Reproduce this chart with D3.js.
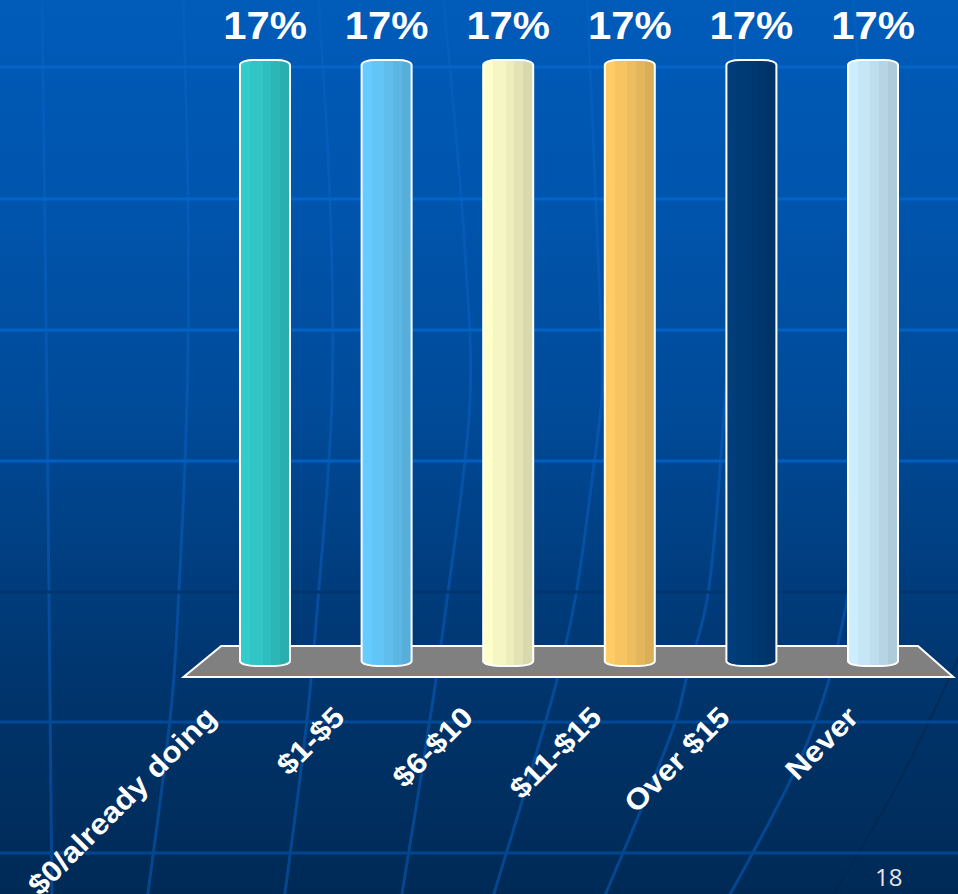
<!DOCTYPE html>
<html>
<head>
<meta charset="utf-8">
<script src="https://cdn.jsdelivr.net/npm/d3@7"></script>
<style>
  html, body { margin: 0; padding: 0; background: #002a56; }
  svg { display: block; }
</style>
</head>
<body>
<svg id="chart" width="958" height="894"></svg>
<script>
// Willingness-to-pay survey: share of answers per price bracket
const categories = ["$0/already doing", "$1-$5", "$6-$10", "$11-$15", "Over $15", "Never"];
const values = [17, 17, 17, 17, 17, 17];
const barColors = ["#33cccc", "#66ccff", "#ffffcc", "#ffcc66", "#003d7a", "#cceeff"];
const pageNumber = "18";

const W = 958, H = 894;
const svg = d3.select("#chart");
const defs = svg.append("defs");

// ---- slide background -------------------------------------------------
const bg = defs.append("linearGradient").attr("id", "bg")
  .attr("x1", 0).attr("y1", 0).attr("x2", 0).attr("y2", 1);
[[0, "#005bb9"], [0.22, "#0055ad"], [0.45, "#004b9a"], [0.67, "#003b7a"],
 [0.8, "#003369"], [1, "#002a56"]].forEach(([o, c]) =>
  bg.append("stop").attr("offset", o).attr("stop-color", c));
svg.append("rect").attr("width", W).attr("height", H).attr("fill", "url(#bg)");

// decorative curved grid of the slide template
const deco = svg.append("g").attr("fill", "none");
const curve = d3.line().curve(d3.curveCatmullRom.alpha(0.5));
const bends = [
  [[42, -5], [47, 400], [49, 600], [50, 700], [52, 900]],
  [[183, -5], [188, 200], [187, 400], [179, 590], [172, 700], [147, 900]],
  [[318, -5], [330, 200], [332, 400], [318, 600], [307, 720], [284, 900]],
  [[443, -5], [465, 250], [470, 400], [447, 600], [433, 700], [401, 900]],
  [[587, -5], [600, 300], [603, 380], [592, 480], [575, 600], [557, 680], [492, 900]],
  [[735, -5], [732, 300], [725, 400], [707, 600], [686, 680], [676, 720], [603, 900]],
  [[853, -5], [865, 200], [865, 400], [855, 550], [847, 600], [829, 680], [800, 760], [727, 900]]
];
deco.selectAll("path.bend").data(bends).join("path")
  .attr("class", "bend")
  .attr("d", curve)
  .attr("stroke", "#0a62c4")
  .attr("stroke-opacity", 0.5)
  .attr("stroke-width", 3);
deco.append("path")
  .attr("d", curve([[830, 900], [900, 780], [962, 650]]))
  .attr("stroke", "#00234a").attr("stroke-opacity", 0.5).attr("stroke-width", 2);

const rules = [
  {y: 67, c: "#0066cc"}, {y: 199, c: "#0066cc"}, {y: 330, c: "#0063c6"},
  {y: 461, c: "#005fc0"}, {y: 592, c: "#003670"}, {y: 722, c: "#004a98"},
  {y: 853, c: "#00468f"}
];
deco.selectAll("line.rule").data(rules).join("line")
  .attr("class", "rule")
  .attr("x1", 0).attr("x2", W)
  .attr("y1", d => d.y).attr("y2", d => d.y)
  .attr("stroke", d => d.c).attr("stroke-width", 3);

// ---- scales -----------------------------------------------------------
const x = d3.scalePoint().domain(categories).range([265, 873]);
const step = x.step();
const barW = 50;
const y = d3.scaleLinear().domain([0, 17]).range([664, 61]);

// label anchors run along the front of the floor
const xLabel = d3.scalePoint().domain(categories).range([218, 860]);

// ---- floor ------------------------------------------------------------
const first = x(categories[0]), last = x(categories[categories.length - 1]);
const backY = 646, frontY = 677;
svg.append("path")
  .attr("d", d3.line()([
    [first - step * 0.36, backY], [last + step * 0.37, backY],
    [last + step * 0.66, frontY], [first - step * 0.67, frontY]
  ]) + "Z")
  .attr("fill", "#808080")
  .attr("stroke", "#ffffff")
  .attr("stroke-width", 2)
  .attr("stroke-linejoin", "miter");

// ---- cylinder shading -------------------------------------------------
const shade = [0, 0.1, 0.2, 0.32, 0.45];
const bandEdges = [0, 0.2, 0.45, 0.62, 0.8, 1];
barColors.forEach((c, i) => {
  const g = defs.append("linearGradient").attr("id", "bar" + i)
    .attr("x1", 0).attr("x2", 1).attr("y1", 0).attr("y2", 0);
  shade.forEach((k, j) => {
    const col = d3.color(c).darker(k).formatHex();
    g.append("stop").attr("offset", bandEdges[j]).attr("stop-color", col);
    g.append("stop").attr("offset", bandEdges[j + 1]).attr("stop-color", col);
  });
});

function barPath(cx, yTop, yBot) {
  const x0 = cx - barW / 2, x1 = cx + barW / 2;
  const p = d3.path();
  p.moveTo(x0, yTop + 4);
  p.bezierCurveTo(x0, yTop + 1, x0 + 6, yTop - 1, x0 + 14, yTop - 1);
  p.lineTo(x1 - 14, yTop - 1);
  p.bezierCurveTo(x1 - 6, yTop - 1, x1, yTop + 1, x1, yTop + 4);
  p.lineTo(x1, yBot - 3);
  p.bezierCurveTo(x1, yBot, x1 - 8, yBot + 2, x1 - 16, yBot + 2);
  p.lineTo(x0 + 16, yBot + 2);
  p.bezierCurveTo(x0 + 8, yBot + 2, x0, yBot, x0, yBot - 3);
  p.closePath();
  return p.toString();
}

const data = categories.map((c, i) => ({cat: c, value: values[i], i}));

svg.append("g").selectAll("path").data(data).join("path")
  .attr("d", d => barPath(x(d.cat), y(d.value), y(0)))
  .attr("fill", d => `url(#bar${d.i})`)
  .attr("stroke", "#ffffff")
  .attr("stroke-width", 2);

// ---- value labels -----------------------------------------------------
svg.append("g").selectAll("text").data(data).join("text")
  .attr("transform", d => `translate(${x(d.cat)},39) scale(1.1,1)`)
  .attr("text-anchor", "middle")
  .attr("font-family", "'Liberation Sans', Arial, sans-serif")
  .attr("font-weight", "bold")
  .attr("font-size", 38)
  .attr("fill", "#ffffff")
  .text(d => d.value + "%");

// ---- category labels --------------------------------------------------
svg.append("g").selectAll("text").data(data).join("text")
  .attr("transform", d => `translate(${xLabel(d.cat)},719) rotate(-45) scale(1.1,1)`)
  .attr("text-anchor", "end")
  .attr("font-family", "'Liberation Sans', Arial, sans-serif")
  .attr("font-weight", "bold")
  .attr("font-size", 29)
  .attr("fill", "#ffffff")
  .text(d => d.cat);

// ---- slide number -----------------------------------------------------
svg.append("text")
  .attr("x", 875).attr("y", 886)
  .attr("font-family", "'Open Sans', sans-serif")
  .attr("font-size", 24)
  .attr("fill", "#e6e6e6")
  .text(pageNumber);
</script>
</body>
</html>
